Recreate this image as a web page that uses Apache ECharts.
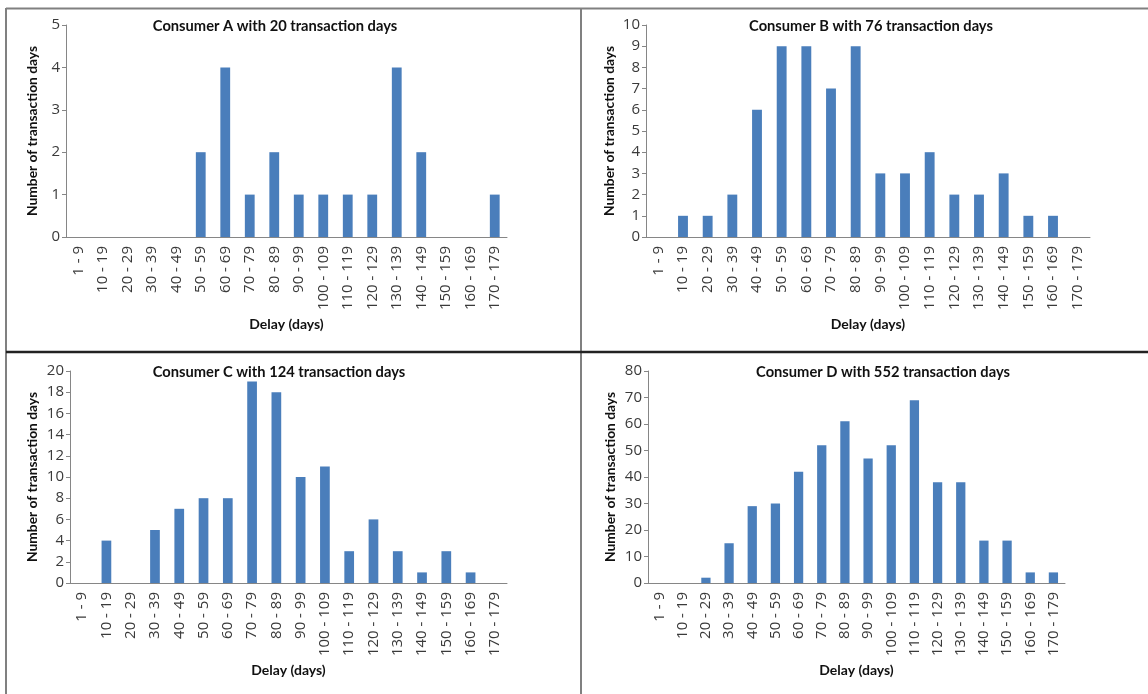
<!DOCTYPE html>
<html><head><meta charset="utf-8">
<script src="https://cdn.jsdelivr.net/npm/echarts@6/dist/echarts.min.js"></script>
<style>html,body{margin:0;padding:0;background:#fff}#c{width:1148px;height:694px}</style>
</head><body><div id="c"></div>
<script>
const categories = ['1 - 9','10 - 19','20 - 29','30 - 39','40 - 49','50 - 59','60 - 69','70 - 79','80 - 89','90 - 99','100 - 109','110 - 119','120 - 129','130 - 139','140 - 149','150 - 159','160 - 169','170 - 179'];
const consumerA = [0,0,0,0,0,2,4,1,2,1,1,1,1,4,2,0,0,1];
const consumerB = [0,1,1,2,6,9,9,7,9,3,3,4,2,2,3,1,1,0];
const consumerC = [0,4,0,5,7,8,8,19,18,10,11,3,6,3,1,3,1,0];
const consumerD = [0,0,2,15,29,30,42,52,61,47,52,69,38,38,16,16,4,4];
const titles = ['Consumer A with 20 transaction days','Consumer B with 76 transaction days','Consumer C with 124 transaction days','Consumer D with 552 transaction days'];
const yMax = [5,10,20,80];
const yStep = [1,1,2,10];

const FONT = 'Lato, "Open Sans", sans-serif';
const TICKFONT = '"Open Sans", sans-serif';
const grids = [
  {left:66, top:25, width:441, height:212},
  {left:646, top:25, width:444, height:212},
  {left:70, top:371, width:437, height:212},
  {left:648, top:371, width:417, height:212}
];
const titlePos = [[270,14],[866,14],[274,360],[878,360]];
const nameGaps = [26,29,30,30];
const seriesData = [consumerA, consumerB, consumerC, consumerD];

const option = {
  backgroundColor:'#fff',
  animation:false,
  title: titles.map((t,i)=>({text:t, left:titlePos[i][0], top:titlePos[i][1], textAlign:'center',
    textStyle:{fontFamily:FONT, fontSize:14.7, fontWeight:'bold', color:'#111'}})),
  grid: grids,
  xAxis: grids.map((g,i)=>({type:'category', gridIndex:i, data:categories,
    name:'Delay (days)', nameLocation:'middle', nameGap:80,
    nameTextStyle:{fontFamily:FONT, fontSize:14, fontWeight:'bold', color:'#111'},
    axisLine:{lineStyle:{color:'#868686', width:1}}, axisTick:{show:false},
    axisLabel:{rotate:90, interval:0, margin:9, fontFamily:TICKFONT, fontSize:15, color:'#3a3a3a'}})),
  yAxis: grids.map((g,i)=>({type:'value', gridIndex:i, min:0, max:yMax[i], interval:yStep[i],
    name:'Number of transaction days', nameLocation:'middle', nameGap:nameGaps[i],
    nameTextStyle:{fontFamily:FONT, fontSize:13.8, fontWeight:'bold', color:'#111'},
    splitLine:{show:false},
    axisLine:{show:true, lineStyle:{color:'#868686', width:1}},
    axisTick:{show:true, length:4, lineStyle:{color:'#868686'}},
    axisLabel:{margin:6, fontFamily:TICKFONT, fontSize:15, color:'#3a3a3a'}})),
  series: seriesData.map((d,i)=>({type:'bar', xAxisIndex:i, yAxisIndex:i, data:d,
    barWidth:'40%', itemStyle:{color:'#4a7ebb'}})),
  graphic: [
    {type:'line', shape:{x1:6,y1:8.5,x2:1148,y2:8.5}, style:{stroke:'#808080', lineWidth:2}},
    {type:'line', shape:{x1:6,y1:8,x2:6,y2:694}, style:{stroke:'#808080', lineWidth:2}},
    {type:'line', shape:{x1:581,y1:8,x2:581,y2:694}, style:{stroke:'#808080', lineWidth:2}},
    {type:'line', shape:{x1:6,y1:352,x2:1148,y2:352}, style:{stroke:'#222', lineWidth:2.5}}
  ]
};
echarts.init(document.getElementById('c')).setOption(option);
</script></body></html>
